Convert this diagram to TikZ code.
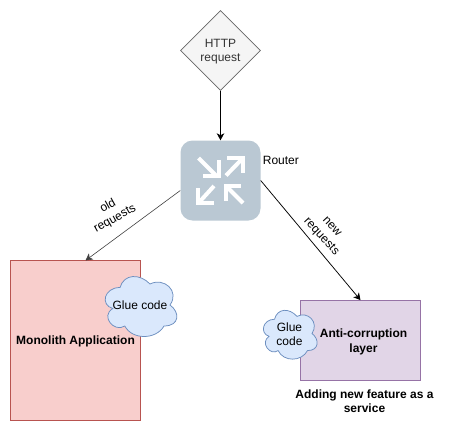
\documentclass[tikz,border=0pt]{standalone}
\usepackage{fontspec}
\setmainfont{Liberation Sans}
\usepackage{tikz}
\usetikzlibrary{arrows.meta,positioning,shapes.geometric,calc}
\definecolor{routerblue}{HTML}{BAC8D3}
\definecolor{monofill}{HTML}{F8CECC}
\definecolor{monoline}{HTML}{B85450}
\definecolor{aclfill}{HTML}{E1D5E7}
\definecolor{aclline}{HTML}{9673A6}
\definecolor{cloudfill}{HTML}{DAE8FC}
\definecolor{cloudline}{HTML}{6C8EBF}
\newcommand{\gluecloud}[6]{% name, x, y, w, h, text
  \draw[cloudb,shift={(#2,#3)},x=#4pt,y=-#5pt]
    (0.25,0.25) .. controls (0.05,0.25) and (0,0.5) .. (0.16,0.55)
    .. controls (0,0.66) and (0.18,0.9) .. (0.31,0.8)
    .. controls (0.4,1) and (0.7,1) .. (0.8,0.8)
    .. controls (1,0.8) and (1,0.6) .. (0.875,0.5)
    .. controls (1,0.3) and (0.8,0.1) .. (0.625,0.2)
    .. controls (0.5,0.05) and (0.3,0.05) .. (0.25,0.25) -- cycle;
  \node[txt,align=center] (#1) at (#2+#4/2,#3+#5/2+0.7) {#6};}
\begin{document}
\begin{tikzpicture}[x=1pt,y=-1pt,font=\fontsize{12}{14.4}\selectfont,
  txt/.style={inner sep=0pt,align=center,text=black},
  bold/.style={txt,font=\fontsize{12}{14.4}\selectfont\bfseries},
  decision/.style={draw=black!60,fill=black!4,diamond,aspect=1,minimum width=80pt,
                   minimum height=80pt,inner sep=0pt,align=center,line width=0.75pt},
  routerb/.style={fill=routerblue,rounded corners=12pt,minimum width=80pt,minimum height=80pt},
  mono/.style={draw=monoline,fill=monofill,minimum width=130pt,minimum height=160pt,
               inner sep=0pt,line width=0.75pt},
  acl/.style={draw=aclline,fill=aclfill,minimum width=120pt,minimum height=80pt,
              inner sep=0pt,line width=0.75pt},
  cloudb/.style={draw=cloudline,fill=cloudfill,line width=0.75pt},
  routerarr/.style={draw=white,line width=4pt,line join=miter},
  arr/.style={-{Stealth[length=7pt,width=7.5pt,inset=2pt]},line width=0.75pt}]
\useasboundingbox (0,0) rectangle (451,431);
\node[decision] (http) at (220.5,50.5) {};
\node[txt,text=black!80] (httplbl) at (220.5,51.5) {HTTP\\request};
\node[routerb] (router) at (220.5,180.5) {};
\node[txt,right=2pt of router.north east,anchor=west,yshift=-20pt] (routerlbl) {Router};
\node[mono] (monolith) at (75.5,340.5) {};
\node[bold] (monolbl) at (75.5,341.5) {Monolith Application};
\node[acl] (anti) at (360.5,340.5) {};
\node[bold,align=center] (antilbl) at (363.5,342) {Anti-corruption\\layer};
\node[bold] (featlbl) at (364.5,401) {Adding new feature as a\\service};
\gluecloud{glueold}{100}{270}{80}{70}{Glue code}
\gluecloud{gluenew}{259.5}{305}{60}{57}{Glue\\code}
% router icon
\draw[routerarr] (198.5,158) -- (216,175.5);
\draw[routerarr] (203,175.5) -- (218.5,175.5) -- (218.5,160);
\draw[routerarr] (226,175.5) -- (243,158);
\draw[routerarr] (227,157.5) -- (243,157.5) -- (243,173);
\draw[routerarr] (198.5,203) -- (214,186);
\draw[routerarr] (198,188) -- (198,203) -- (214,203);
\draw[routerarr] (226,186) -- (243,203);
\draw[routerarr] (226,201) -- (226,186) -- (241,186);
\coordinate (oldend) at (85.5,260.5);
\draw[arr] (http) -- (router);
\draw[arr,draw=black!75,line width=0.6pt] (router.west |- 0,190.5) -- (oldend);
\draw[arr] (router.east |- 0,180.5) -- (anti.north);
\node[txt,rotate=29] (oldlbl) at (111.5,212.5) {old\\requests};
\node[txt,rotate=-47] (newlbl) at (326,232.5) {new\\requests};
\end{tikzpicture}
\end{document}
